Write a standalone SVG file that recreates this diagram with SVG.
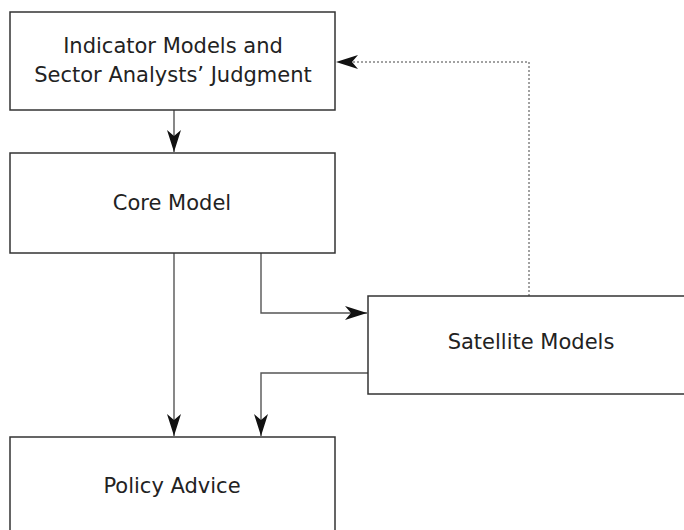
<svg xmlns="http://www.w3.org/2000/svg" width="684" height="530" viewBox="0 0 684 530">
<style>
.box{fill:#fff;stroke:#333;stroke-width:1.5}
.lbl{font-family:"DejaVu Sans",sans-serif;font-size:21px;fill:#222;text-anchor:middle}
.con{fill:none;stroke:#555;stroke-width:1.4}
.dot{fill:none;stroke:#444;stroke-width:1;stroke-dasharray:2 2}
</style>
<defs>
<marker id="ah" markerUnits="userSpaceOnUse" markerWidth="24" markerHeight="16" viewBox="-23 -8 24 16" refX="0" refY="0" orient="auto">
<path d="M0,0 L-22,-7 L-16,0 L-22,7 Z" fill="#111"/>
</marker>
</defs>
<g id="connectors">
<path class="con" d="M174,110 V152" marker-end="url(#ah)"/>
<path class="con" d="M174,253 V436" marker-end="url(#ah)"/>
<path class="con" d="M261,253 V313 H367" marker-end="url(#ah)"/>
<path class="con" d="M368,373 H261 V436" marker-end="url(#ah)"/>
<path class="dot" d="M529,296 V62 H340"/>
<path d="M336,62 L358,55 L352,62 L358,69 Z" fill="#111"/>
</g>
<g id="indicator">
<rect class="box" x="10" y="12" width="325" height="98"/>
<text class="lbl" x="173" y="53">Indicator Models and</text>
<text class="lbl" x="173" y="82">Sector Analysts’ Judgment</text>
</g>
<g id="core">
<rect class="box" x="10" y="153" width="325" height="100"/>
<text class="lbl" x="172" y="210">Core Model</text>
</g>
<g id="satellite">
<rect class="box" x="368" y="296" width="330" height="98"/>
<text class="lbl" x="531" y="349">Satellite Models</text>
</g>
<g id="policy">
<rect class="box" x="10" y="437" width="325" height="100"/>
<text class="lbl" x="172" y="493">Policy Advice</text>
</g>
</svg>
